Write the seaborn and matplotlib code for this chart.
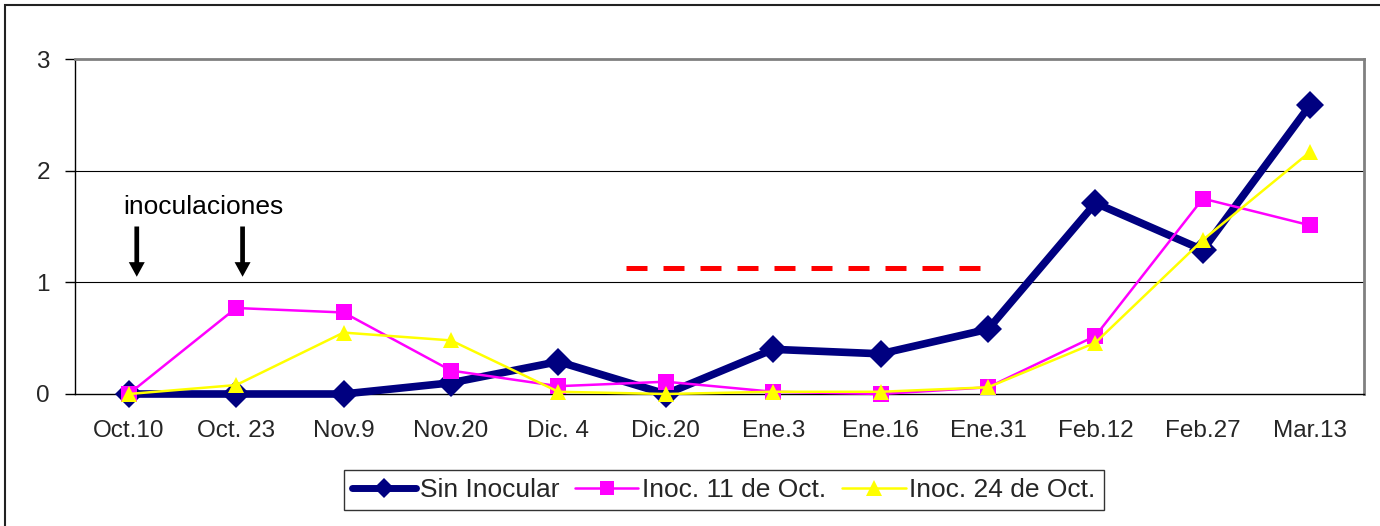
import numpy as np
import pandas as pd
import matplotlib
matplotlib.use("Agg")
import matplotlib.pyplot as plt
from matplotlib.lines import Line2D
from matplotlib.patches import Rectangle
import seaborn as sns

categories = ["Oct.10", "Oct. 23", "Nov.9", "Nov.20", "Dic. 4", "Dic.20",
              "Ene.3", "Ene.16", "Ene.31", "Feb.12", "Feb.27", "Mar.13"]
sin_inocular = [0.0, 0.0, 0.0, 0.10, 0.29, 0.0, 0.40, 0.36, 0.58, 1.71, 1.29, 2.59]
inoc_11_oct = [0.0, 0.77, 0.73, 0.21, 0.07, 0.11, 0.02, 0.0, 0.06, 0.52, 1.75, 1.51]
inoc_24_oct = [0.0, 0.08, 0.55, 0.48, 0.02, 0.0, 0.02, 0.02, 0.06, 0.46, 1.38, 2.17]
series_names = ["Sin Inocular", "Inoc. 11 de Oct.", "Inoc. 24 de Oct."]
yticks = [0, 1, 2, 3]
# red dashed reference segment (category-index start/end, value)
ref_start, ref_end, ref_value = 4.63, 7.97, 1.13
# inoculation arrows (category-index positions)
arrow_x = [0.075, 1.06]
arrow_top, arrow_tip = 1.50, 1.05
annot_text = "inoculaciones"

sns.set_theme(style="white")
plt.rcParams['font.family'] = ['Liberation Sans', 'DejaVu Sans']

pos = np.arange(len(categories))
df = pd.DataFrame({
    "pos": np.tile(pos, 3),
    "value": sin_inocular + inoc_11_oct + inoc_24_oct,
    "serie": np.repeat(series_names, len(categories)),
})

fig = plt.figure(figsize=(13.8, 5.26), dpi=100)
ax = fig.add_axes([75/1380, 1-394/526, (1364-75)/1380, (394-59)/526])

styles = {
    "Sin Inocular": dict(color="#000080", marker="D", lw=5.5, ms=14),
    "Inoc. 11 de Oct.": dict(color="#FF00FF", marker="s", lw=1.8, ms=11),
    "Inoc. 24 de Oct.": dict(color="#FFFF00", marker="^", lw=1.8, ms=12),
}
for name in series_names:
    st = styles[name]
    sub = df[df["serie"] == name]
    sns.lineplot(data=sub, x="pos", y="value", ax=ax, color=st["color"],
                 marker=st["marker"], linewidth=st["lw"], markersize=st["ms"],
                 markeredgewidth=0, estimator=None, sort=False, legend=False,
                 clip_on=False, zorder=3)

ax.set_xlim(-0.5, len(categories) - 0.5)
ax.set_ylim(0, 3)
ax.set_xlabel("")
ax.set_ylabel("")
ax.set_xticks(pos)
ax.set_xticklabels(categories, fontsize=17.5)
ax.set_xticks(np.arange(len(categories) + 1) - 0.5, minor=True)
ax.tick_params(axis="x", which="major", length=0, pad=19)
ax.tick_params(axis="x", which="minor", length=7, width=1, color="black", direction="out")
ax.set_yticks(yticks)
ax.set_yticklabels([str(v) for v in yticks], fontsize=17.5)
ax.tick_params(axis="y", length=7, width=1, color="black", direction="out", pad=11, left=True)
for y in yticks[1:-1]:
    ax.axhline(y, color="black", lw=0.8, zorder=1)
ax.grid(False)
for side in ["left", "bottom"]:
    ax.spines[side].set_color("black")
    ax.spines[side].set_linewidth(1.0)
for side in ["top", "right"]:
    ax.spines[side].set_color("#808080")
    ax.spines[side].set_linewidth(2.0)

# red dashed segment
ax.plot([ref_start, ref_end], [ref_value, ref_value], color="#FF0000", lw=3.6,
        dashes=(4.2, 3.2), zorder=2)

# arrows and text
for xa in arrow_x:
    ax.annotate("", xy=(xa, arrow_tip), xytext=(xa, arrow_top),
                arrowprops=dict(width=3.4, headwidth=11.5, headlength=10.5,
                                facecolor="black", edgecolor="none", lw=0,
                                shrink=0))
ax.text(-0.05, 1.61, annot_text, fontsize=19, color="black", ha="left", va="baseline")

handles = [
    Line2D([], [], color="#000080", lw=5.0, marker="D", ms=10, markeredgewidth=0),
    Line2D([], [], color="#FF00FF", lw=1.8, marker="s", ms=10, markeredgewidth=0),
    Line2D([], [], color="#FFFF00", lw=1.8, marker="^", ms=11, markeredgewidth=0),
]
leg = fig.legend(handles, series_names, loc="center", bbox_to_anchor=(724/1380, 1-490/526),
                 ncol=3, fontsize=19, frameon=True, fancybox=False, edgecolor="black",
                 handlelength=2.4, handletextpad=0.15, columnspacing=0.6, borderpad=0.3,
                 borderaxespad=0)
leg.get_frame().set_linewidth(1.0)

fig.patches.append(Rectangle((5/1380, -0.2), 1.5, 1.2 - 5/526, transform=fig.transFigure,
                             fill=False, edgecolor="#222222", lw=1.5, zorder=0))

fig.savefig("out.png", dpi=100)
